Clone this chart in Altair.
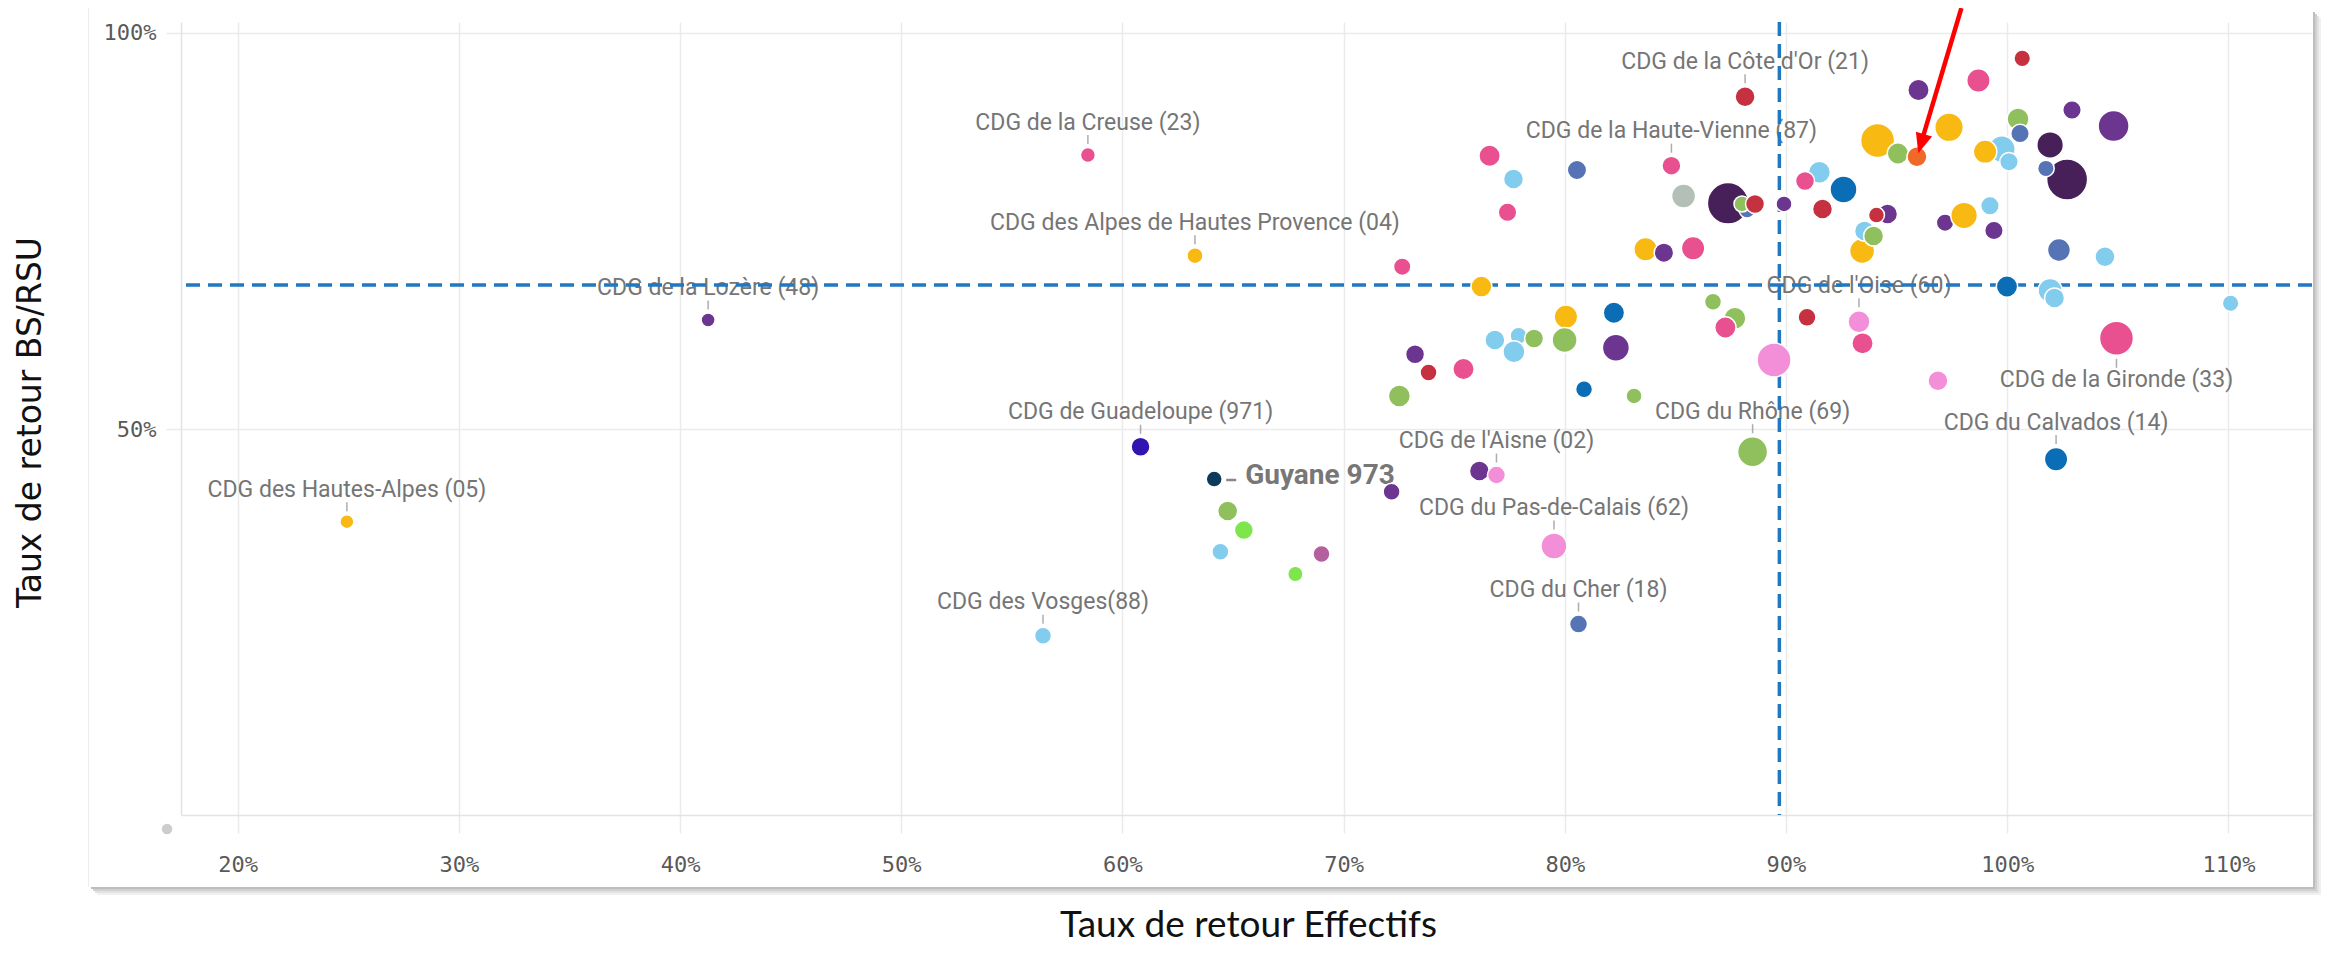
import math
import altair as alt
import pandas as pd

# ---------------- data ----------------
x_effectifs = [
    88.15, 100.68, 98.70, 95.99, 102.93, 104.81, 100.49, 100.58, 101.94, 102.71,
    101.75, 99.76, 100.08, 99.00, 97.37, 94.14, 95.06, 95.92, 76.60, 77.68,
    80.55, 84.82, 77.41, 85.37, 87.38, 88.24, 88.01, 88.60, 89.91, 91.51,
    90.86, 92.60, 91.65, 94.59, 94.09, 93.44, 93.55, 93.96, 97.19, 98.05,
    99.22, 99.40, 102.34, 104.42, 83.65, 84.48, 85.80, 72.65, 76.23, 99.99,
    101.94, 102.14, 110.10, 86.70, 87.69, 87.26, 90.95, 93.30, 93.46, 80.05,
    82.22, 76.84, 77.91, 77.70, 78.61, 79.99, 82.31, 73.23, 73.84, 75.42,
    72.52, 80.87, 83.13, 89.46, 96.87, 104.94, 88.49, 102.21, 76.14, 76.91,
    72.17, 79.51, 80.62, 56.41, 64.15, 64.76, 65.49, 64.43, 67.82, 69.00,
    60.82, 63.28, 58.44, 41.27, 24.94, 16.81,
]
y_bsrsu = [
    91.93, 96.77, 93.97, 92.77, 90.25, 88.23, 89.12, 87.29, 85.84, 81.49,
    82.88, 85.33, 83.73, 85.00, 88.07, 86.41, 84.77, 84.36, 84.49, 81.55,
    82.69, 83.23, 77.35, 79.41, 78.49, 77.64, 78.40, 78.40, 78.40, 82.40,
    81.30, 80.23, 77.77, 77.14, 77.01, 72.47, 74.99, 74.36, 76.04, 76.95,
    78.18, 75.06, 72.60, 71.75, 72.69, 72.26, 72.81, 70.49, 67.99, 67.99,
    67.49, 66.54, 65.88, 66.08, 63.98, 62.82, 64.11, 63.56, 60.83, 64.19,
    64.69, 61.25, 61.79, 59.77, 61.44, 61.25, 60.28, 59.45, 57.15, 57.59,
    54.19, 55.03, 54.19, 58.73, 56.12, 61.46, 47.16, 46.21, 44.73, 44.22,
    42.12, 35.27, 25.43, 23.96, 43.72, 39.68, 37.28, 34.55, 31.74, 34.26,
    47.79, 71.88, 84.58, 63.77, 38.34, -0.42,
]
taille = [
    100, 69, 137, 114, 86, 240, 121, 86, 177, 420,
    69, 177, 86, 137, 204, 289, 114, 100, 114, 100,
    94, 90, 86, 144, 428, 64, 64, 90, 64, 121,
    90, 182, 100, 100, 64, 156, 100, 100, 76, 177,
    86, 86, 132, 100, 137, 94, 137, 76, 110, 114,
    144, 100, 69, 72, 121, 114, 81, 121, 114, 137,
    114, 100, 72, 121, 90, 156, 182, 90, 72, 114,
    121, 72, 64, 289, 100, 289, 225, 137, 100, 81,
    72, 169, 81, 72, 64, 100, 90, 72, 59, 72,
    90, 64, 56, 49, 49, 36,
]
groupe = [
    "rouge", "rouge", "rose", "violet", "violet", "violet", "vert", "bleu acier", "violet foncé", "violet foncé",
    "bleu acier", "bleu clair", "bleu clair", "jaune", "jaune", "jaune", "vert", "orange", "rose", "bleu clair",
    "bleu acier", "rose", "rose", "gris vert", "violet foncé", "bleu acier", "vert", "rouge", "violet", "bleu clair",
    "rose", "bleu", "rouge", "violet", "rouge", "jaune", "bleu clair", "vert", "violet", "jaune",
    "bleu clair", "violet", "bleu acier", "bleu clair", "jaune", "violet", "rose", "rose", "jaune", "bleu",
    "bleu clair", "bleu clair", "bleu clair", "vert", "vert", "rose", "rouge", "rose pâle", "rose", "jaune",
    "bleu", "bleu clair", "bleu clair", "bleu clair", "vert", "vert", "violet", "violet", "rouge", "rose",
    "vert", "bleu", "vert", "rose pâle", "rose pâle", "rose", "vert", "bleu", "violet", "rose pâle",
    "violet", "rose pâle", "bleu acier", "bleu clair", "marine", "vert", "vert vif", "bleu clair", "vert vif", "mauve",
    "indigo", "jaune", "rose", "violet", "jaune", "hors limites",
]
libelle = [""] * len(x_effectifs)
noms = {
    0: "CDG de la Côte d'Or (21)",
    21: "CDG de la Haute-Vienne (87)",
    57: "CDG de l'Oise (60)",
    75: "CDG de la Gironde (33)",
    76: "CDG du Rhône (69)",
    77: "CDG du Calvados (14)",
    79: "CDG de l'Aisne (02)",
    81: "CDG du Pas-de-Calais (62)",
    82: "CDG du Cher (18)",
    83: "CDG des Vosges(88)",
    84: "Guyane 973",
    90: "CDG de Guadeloupe (971)",
    91: "CDG des Alpes de Hautes Provence (04)",
    92: "CDG de la Creuse (23)",
    93: "CDG de la Lozère (48)",
    94: "CDG des Hautes-Alpes (05)",
}
for k, v in noms.items():
    libelle[k] = v

moyenne_effectifs = [89.7]
moyenne_bsrsu = [68.2]

groupes_dom = ["rose", "rouge", "violet", "violet foncé", "jaune", "vert", "bleu clair",
               "bleu acier", "bleu", "orange", "gris vert", "rose pâle", "vert vif",
               "marine", "indigo", "mauve", "hors limites"]
groupes_col = ["#e9508f", "#c5313e", "#6b3590", "#47205a", "#f7b912", "#8fc05d", "#82ccee",
               "#5673b5", "#0b6db5", "#ef6a28", "#b3bfb7", "#f38ed8", "#7fe54d",
               "#0b3a5a", "#3214b0", "#b4609f", "#cccccc"]

# arrow annotation (start, end of shaft, tip)
fleche_x = [97.93, 96.10, 95.98]
fleche_y = [103.11, 86.0, 84.79]

# ---------------- chart ----------------
df = pd.DataFrame({"x": x_effectifs, "y": y_bsrsu, "taille": taille,
                   "groupe": groupe, "libelle": libelle})

W, H = 2131, 793
xs = alt.Scale(domain=[17.44, 113.78], nice=False, zero=False)
ys = alt.Scale(domain=[1.35, 101.35], nice=False, zero=False)

x_axis = alt.Axis(values=list(range(20, 111, 10)), labelExpr="datum.value + '%'",
                  title="Taux de retour Effectifs", grid=True, tickSize=18,
                  labelPadding=31, labelBaseline="middle", labelFlush=False,
                  titleFont="Lato", titleFontSize=37, titleX=1067, titleY=110,
                  titleAlign="center", titleBaseline="middle")
y_axis = alt.Axis(values=[50, 100], labelExpr="datum.value + '%'",
                  title="Taux de retour BS/RSU", grid=True, tickSize=15,
                  labelPadding=10, labelFlush=False,
                  titleFont="DejaVu Sans", titleFontSize=33, titleX=-151, titleY=400,
                  titleAngle=270, titleAlign="center", titleBaseline="middle")

X = alt.X("x:Q", scale=xs, axis=x_axis)
Y = alt.Y("y:Q", scale=ys, axis=y_axis)

one = alt.Data(values=[{"k": 1}])
layers = []

# card frame: faint left edge and bottom/right shadow
layers.append(alt.Chart(one).mark_rect(color="#ededed").encode(
    x=alt.value(-93), x2=alt.value(-92), y=alt.value(-14), y2=alt.value(865)))
for off, col in [(0, "#bdbdbd"), (2, "#d0d0d0"), (4, "#e2e2e2"), (6, "#f0f0f0")]:
    layers.append(alt.Chart(one).mark_rect(color=col).encode(
        x=alt.value(-90 + off), x2=alt.value(2132 + off + 2),
        y=alt.value(865 + off), y2=alt.value(865 + off + 2)))
    layers.append(alt.Chart(one).mark_rect(color=col).encode(
        x=alt.value(2132 + off), x2=alt.value(2132 + off + 2),
        y=alt.value(-10 + off), y2=alt.value(865 + off + 2)))

# labels (text first, so the dashed lines run over them)
ticks = []
for i, row in df[df.libelle != ""].iterrows():
    r = math.sqrt(row.taille)
    d1 = df.loc[[i]]
    if row.libelle == "Guyane 973":
        layers.append(alt.Chart(d1).mark_text(
            align="left", baseline="middle", dx=r + 23, dy=-3, font="Roboto",
            fontSize=28, fontWeight="bold", color="#777777").encode(x=X, y=Y, text="libelle:N"))
        ticks.append(alt.Chart(d1).mark_tick(
            orient="horizontal", size=10, thickness=2.5, color="#555555",
            xOffset=r + 9, yOffset=1).encode(x=X, y=Y))
    else:
        sgn = 1 if "Gironde" in row.libelle else -1
        layers.append(alt.Chart(d1).mark_text(
            align="center", baseline="middle", dy=sgn * (r + 25), font="Roboto",
            fontSize=23, color="#757575").encode(x=X, y=Y, text="libelle:N"))
        ticks.append(alt.Chart(d1).mark_tick(
            orient="vertical", size=9, thickness=1.5, color="#8a8a8a",
            yOffset=sgn * (r + 8)).encode(x=X, y=Y))

# dashed reference lines
layers.append(alt.Chart(pd.DataFrame({"y": moyenne_bsrsu})).mark_rule(
    color="#1f78c1", strokeWidth=3.5, strokeDash=[14, 8]).encode(y=Y))
layers.append(alt.Chart(pd.DataFrame({"x": moyenne_effectifs})).mark_rule(
    color="#1f78c1", strokeWidth=3.5, strokeDash=[14, 8]).encode(x=X))

# bubbles
layers.append(alt.Chart(df).mark_circle(opacity=1, stroke="white", strokeWidth=1.5).encode(
    x=X, y=Y,
    size=alt.Size("taille:Q", scale=alt.Scale(type="linear", domain=[0, 500], range=[0, 2000]),
                  legend=None),
    color=alt.Color("groupe:N", scale=alt.Scale(domain=groupes_dom, range=groupes_col),
                    legend=None),
    order=alt.value(0),
))
layers.extend(ticks)

# red arrow
fd = pd.DataFrame({"x": [fleche_x[0]], "y": [fleche_y[0]],
                   "x2": [fleche_x[1]], "y2": [fleche_y[1]]})
layers.append(alt.Chart(fd).mark_rule(color="#ff0000", strokeWidth=4.5).encode(
    x=X, y=Y, x2="x2:Q", y2="y2:Q"))
ang = math.degrees(math.atan2((fleche_x[0] - fleche_x[2]) * 22.12,
                              (fleche_y[0] - fleche_y[2]) * 7.93))
layers.append(alt.Chart(pd.DataFrame({"x": [fleche_x[2]], "y": [fleche_y[2]]})).mark_point(
    shape="M0,0L-0.42,-1L0.42,-1Z", filled=True, color="#ff0000", opacity=1,
    size=1600, angle=ang, strokeWidth=0).encode(x=X, y=Y))

chart = alt.layer(*layers).properties(
    width=W, height=H,
    autosize=alt.AutoSizeParams(type="none"),
    padding={"left": 173, "top": 14, "right": 9, "bottom": 129},
).configure_view(stroke=None).configure_axis(
    labelFont="DejaVu Sans Mono", labelFontSize=22, labelColor="#595959",
    gridColor="#ebebeb", gridWidth=1.5, tickColor="#ebebeb", tickWidth=1.5,
    domainColor="#e3e3e3", domainWidth=1.5, titleColor="#111111", titleFontWeight="normal",
)

chart.save("out.html", embed_options={"renderer": "svg", "actions": False})
